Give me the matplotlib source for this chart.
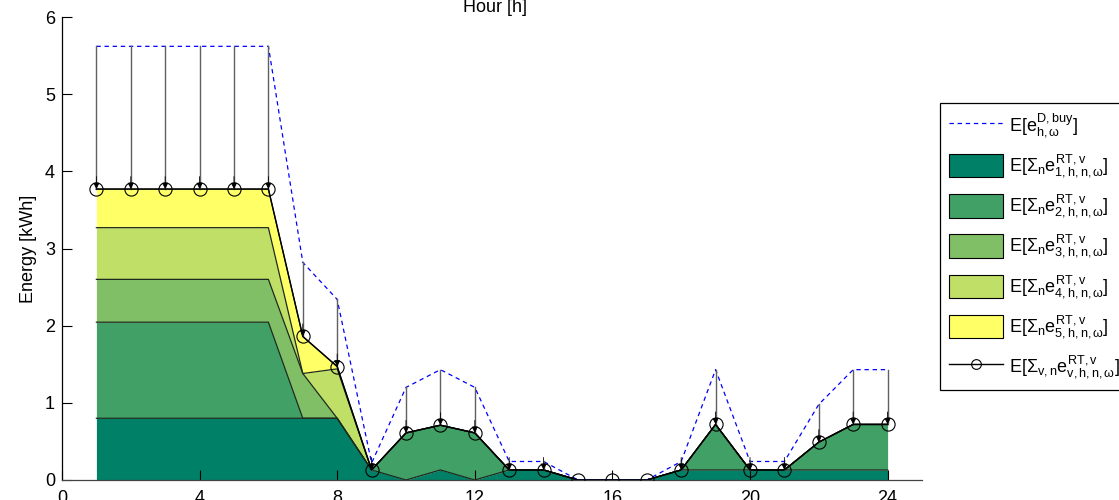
import matplotlib
matplotlib.use('Agg')
import matplotlib.pyplot as plt
from matplotlib.lines import Line2D
from matplotlib.patches import Patch
import numpy as np

plt.rcParams['font.family'] = ['Liberation Sans', 'DejaVu Sans']
plt.rcParams['mathtext.fontset'] = 'custom'
plt.rcParams['mathtext.rm'] = 'Liberation Sans'
plt.rcParams['mathtext.it'] = 'Liberation Sans'
plt.rcParams['mathtext.bf'] = 'Liberation Sans:bold'
plt.rcParams['mathtext.sf'] = 'Liberation Sans'

# ---------------- data ----------------
hours = list(range(1, 25))
demand_buy = [5.62] * 6 + [2.82, 2.34, 0.22, 1.20, 1.43, 1.20, 0.24, 0.24, 0.0, 0.0, 0.0,
                           0.24, 1.43, 0.24, 0.24, 0.98, 1.43, 1.43]
ev1 = [0.80] * 8 + [0.13, 0.0, 0.13, 0.0, 0.13, 0.13, 0.0, 0.0, 0.0,
                    0.13, 0.13, 0.13, 0.13, 0.13, 0.13, 0.13]
ev2 = [1.245] * 6 + [0.0, 0.0, 0.0, 0.61, 0.58, 0.61, 0.0, 0.0, 0.0, 0.0, 0.0,
                     0.0, 0.59, 0.0, 0.0, 0.36, 0.59, 0.59]
ev3 = [0.555] * 6 + [0.58] + [0.0] * 17
ev4 = [0.67] * 6 + [0.0, 0.64] + [0.0] * 16
ev5 = [0.50] * 6 + [0.48, 0.03] + [0.0] * 16

layers = [ev1, ev2, ev3, ev4, ev5]
colors = ['#008066', '#40a066', '#80bf66', '#bfdf66', '#ffff66']
labels = [
    r'E[$e^{D,buy}_{h,\omega}$]',
    r'E[$\Sigma_n e^{RT,v}_{1,h,n,\omega}$]',
    r'E[$\Sigma_n e^{RT,v}_{2,h,n,\omega}$]',
    r'E[$\Sigma_n e^{RT,v}_{3,h,n,\omega}$]',
    r'E[$\Sigma_n e^{RT,v}_{4,h,n,\omega}$]',
    r'E[$\Sigma_n e^{RT,v}_{5,h,n,\omega}$]',
    r'E[$\Sigma_{v,n} e^{RT,v}_{v,h,n,\omega}$]',
]
xticks = [0, 4, 8, 12, 16, 20, 24]
yticks = [0, 1, 2, 3, 4, 5, 6]

# ---------------- figure ----------------
fig = plt.figure(figsize=(11.19, 5.0), dpi=100)
ax = fig.add_axes([62 / 1119, 20 / 500, 860 / 1119, 463 / 500])

x = np.array(hours, dtype=float)
base = np.zeros(len(hours))
cums = []
for vals, col in zip(layers, colors):
    top = base + np.array(vals)
    ax.fill_between(x, base, top, color=col, lw=0, zorder=1)
    cums.append(top)
    base = top
for top in cums:
    ax.plot(x, top, color='#1e2a1e', lw=0.9, zorder=2)

total = cums[-1]
D = np.array(demand_buy)

ax.plot(x, D, color='#0000ff', lw=0.9, ls=(0, (3.5, 3)), zorder=3)

for h, d, t in zip(x, D, total):
    if d - t > 0.01:
        ax.plot([h, h], [d, t], color='#606060', lw=1.0, zorder=3)
        ax.annotate('', xy=(h, t), xytext=(0, 9), textcoords='offset points',
                    arrowprops=dict(arrowstyle='-|>', color='black', lw=0.6,
                                    shrinkA=0, shrinkB=0, mutation_scale=9),
                    zorder=5)

ax.plot(x, total, color='black', lw=1.0, marker='o', ms=9.5, mfc='none',
        mec='black', mew=0.8, zorder=4)

ax.set_xlim(0, 25)
ax.set_ylim(0, 6)
ax.set_xticks(xticks)
ax.set_yticks(yticks)
ax.tick_params(direction='in', length=7, width=0.8, labelsize=13)
ax.tick_params(axis='y', pad=5)
ax.tick_params(axis='x', pad=7)
for s in ['top', 'right']:
    ax.spines[s].set_visible(False)
ax.spines['left'].set_linewidth(0.9)
ax.spines['bottom'].set_linewidth(0.9)
ax.spines['bottom'].set_color('#444444')

ax.set_ylabel('Energy [kWh]', fontsize=13)
ax.yaxis.set_label_coords(-0.029, 0.5)

fig.text(495 / 1119, 1 - 12 / 500, 'Hour [h]', fontsize=13, ha='center', va='baseline')

handles = [Line2D([0], [0], color='#0000ff', lw=0.9, ls=(0, (3.5, 3)))]
for col in colors:
    handles.append(Patch(facecolor=col, edgecolor='black', lw=0.8))
handles.append(Line2D([0], [0], color='black', lw=1.0, marker='o', ms=7,
                      mfc='none', mec='black', mew=0.8))

leg = fig.legend(handles, labels, loc='upper left',
                 bbox_to_anchor=(940 / 1119, 1 - 103 / 500), borderaxespad=0,
                 fontsize=13, handlelength=3.0, handleheight=1.6,
                 handletextpad=0.3, labelspacing=0.7, borderpad=0.5,
                 fancybox=False, framealpha=1, edgecolor='black')
leg.get_frame().set_linewidth(0.9)

fig.savefig('out.png', dpi=100)
